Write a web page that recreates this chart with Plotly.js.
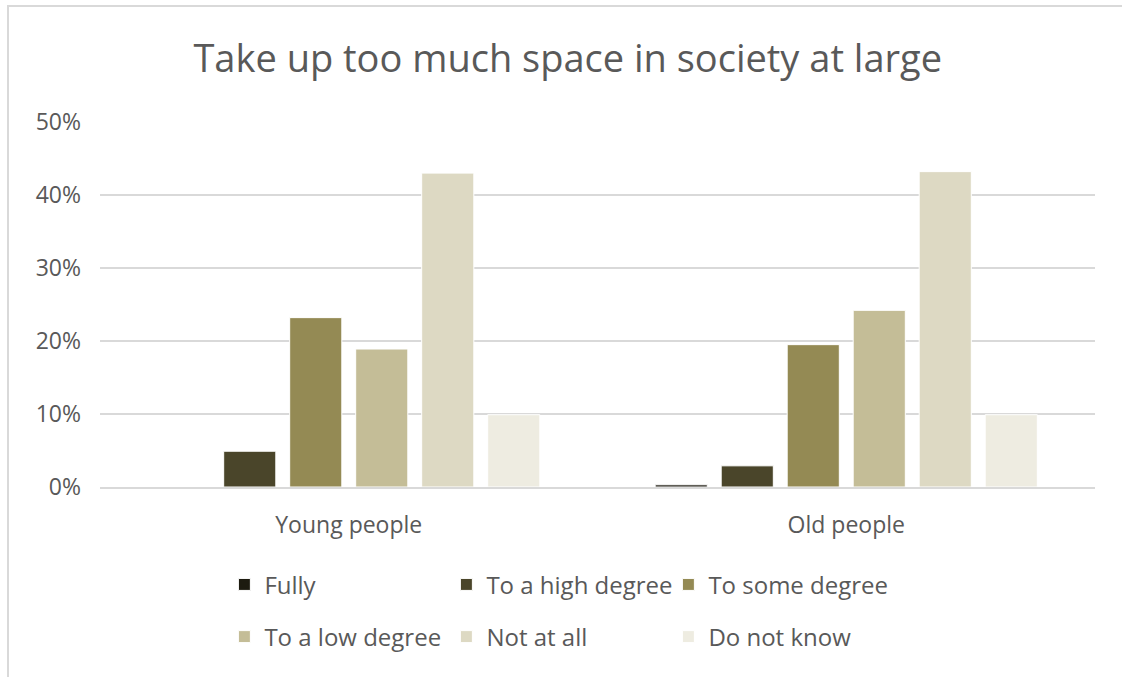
<!DOCTYPE html>
<html><head><meta charset="utf-8">
<script src="https://cdn.plot.ly/plotly-3.0.1.min.js"></script>
<style>
body{margin:0;padding:0;background:#fff;}
#wrap{position:relative;width:1122px;height:677px;overflow:hidden;}
#chart{position:absolute;left:0;top:0;width:1122px;height:677px;}
#frame{position:absolute;left:7px;top:5px;width:1200px;height:700px;border-left:2px solid #d9d9d9;border-top:2px solid #d9d9d9;pointer-events:none;}
</style></head>
<body><div id="wrap"><div id="chart"></div><div id="frame"></div></div>
<script>
const categories = ["Young people", "Old people"];
const seriesNames = ["Fully", "To a high degree", "To some degree", "To a low degree", "Not at all", "Do not know"];
const fully = [0.0, 0.003];
const highDegree = [0.049, 0.029];
const someDegree = [0.232, 0.195];
const lowDegree = [0.189, 0.242];
const notAtAll = [0.430, 0.432];
const doNotKnow = [0.099, 0.099];
const colors = ["#1d1b10", "#4a452a", "#948a54", "#c4bd97", "#ddd9c3", "#eeece1"];

const values = [fully, highDegree, someDegree, lowDegree, notAtAll, doNotKnow];
const traces = values.map((v, i) => ({
  type: "bar",
  name: seriesNames[i],
  x: categories,
  y: v,
  marker: {color: colors[i], line: {color: "#ffffff", width: 1}},
  legend: i < 3 ? "legend" : "legend2",
  hoverinfo: "x+y+name"
}));

const fontFam = "'Open Sans', 'Liberation Sans', sans-serif";
const legendBase = {
  orientation: "h", xanchor: "left", yanchor: "middle", x: 0.125,
  entrywidth: 177, entrywidthmode: "pixels",
  font: {family: fontFam, size: 24, color: "#595959"},
  itemwidth: 30, tracegroupgap: 0, bgcolor: "rgba(0,0,0,0)"
};
const layout = {
  width: 1122, height: 677,
  margin: {l: 100, r: 27, t: 122, b: 190},
  paper_bgcolor: "#ffffff", plot_bgcolor: "#ffffff",
  title: {text: "Take up too much space in society at large", x: 0.506, xref: "container", xanchor: "center",
          y: 0.914, yref: "container", yanchor: "middle",
          font: {family: fontFam, size: 38, color: "#595959"}},
  barmode: "group", bargap: 0.204, bargroupgap: 0.21,
  xaxis: {showgrid: false, showline: true, linecolor: "#d9d9d9", linewidth: 2, ticks: "",
          ticklabelstandoff: 16,
          tickfont: {family: fontFam, size: 23, color: "#595959"}},
  yaxis: {range: [0, 0.5], dtick: 0.1, tickformat: ".0%", showgrid: true, gridcolor: "#d9d9d9", gridwidth: 1.5,
          zeroline: false, showline: false, ticks: "", ticklabelstandoff: 18,
          tickfont: {family: fontFam, size: 23, color: "#595959"}},
  legend: Object.assign({}, legendBase, {y: -0.268}),
  legend2: Object.assign({}, legendBase, {y: -0.411}),
  showlegend: true
};
Plotly.newPlot("chart", traces, layout, {displayModeBar: false});
</script></body></html>
